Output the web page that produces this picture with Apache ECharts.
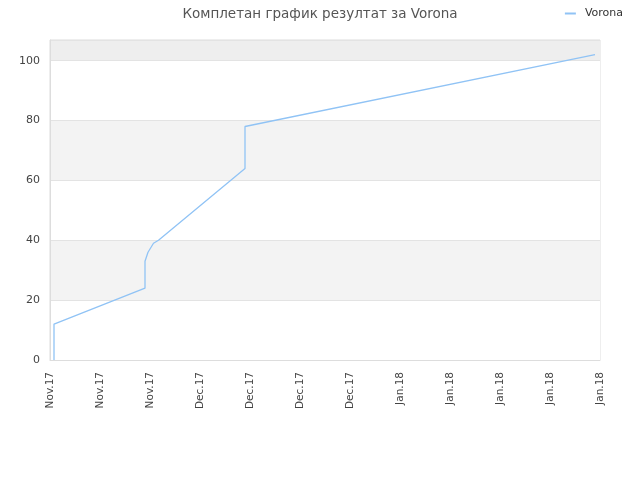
<!DOCTYPE html>
<html>
<head>
<meta charset="utf-8">
<script src="https://cdn.jsdelivr.net/npm/echarts@6/dist/echarts.min.js"></script>
<style>html,body{margin:0;padding:0;background:#fff}#c{width:640px;height:480px}</style>
</head>
<body>
<div id="c"></div>
<script>
const tickLabels = ['Nov.17','Nov.17','Nov.17','Dec.17','Dec.17','Dec.17','Dec.17','Jan.18','Jan.18','Jan.18','Jan.18','Jan.18'];
const xPos = [0.08, 0.08, 1.9, 1.9, 1.96, 2.07, 2.17, 3.9, 3.9, 10.9];
const yVals = [0, 12, 24, 33, 36, 39, 40, 64, 78, 102];
const seriesName = 'Vorona';
const titleText = 'Комплетан график резултат за Vorona';

const chart = echarts.init(document.getElementById('c'));
chart.setOption({
  animation: false,
  backgroundColor: '#fff',
  textStyle: { fontFamily: 'DejaVu Sans' },
  title: {
    text: titleText, left: 'center', top: 2,
    textStyle: { fontSize: 13.5, fontWeight: 'normal', color: '#555', fontFamily: 'DejaVu Sans' }
  },
  legend: {
    right: 12, top: 3, itemWidth: 11, itemHeight: 2, itemGap: 6,
    icon: 'rect',
    textStyle: { fontSize: 11, color: '#333', padding: [0, 0, 0, 4] },
    data: [seriesName]
  },
  grid: { left: 50, right: 40, top: 40, bottom: 120, show: true, borderColor: '#ddd', borderWidth: 1 },
  xAxis: {
    type: 'value', min: 0, max: 11, interval: 1,
    axisLine: { show: true, lineStyle: { color: '#ddd' } },
    axisTick: { show: false },
    splitLine: { show: false },
    axisLabel: {
      rotate: 90, fontSize: 10.5, color: '#444', margin: 12,
      formatter: v => tickLabels[Math.round(v)] || ''
    }
  },
  yAxis: {
    type: 'value', min: 0, max: 106.9, interval: 20,
    axisLine: { show: true, lineStyle: { color: '#ddd' } },
    axisTick: { show: false },
    axisLabel: { fontSize: 11, color: '#444', margin: 10, showMaxLabel: false },
    splitLine: { show: true, lineStyle: { color: '#e3e3e3' } },
    splitArea: { show: true, areaStyle: { color: ['#ffffff','#f3f3f3','#ffffff','#f3f3f3','#ffffff','#eeeeee'] } }
  },
  series: [{
    name: seriesName, type: 'line',
    data: xPos.map((x, i) => [x, yVals[i]]),
    showSymbol: false, symbol: 'none',
    lineStyle: { color: '#90c3f5', width: 1.3 },
    itemStyle: { color: '#90c3f5' }
  }]
});
</script>
</body>
</html>
